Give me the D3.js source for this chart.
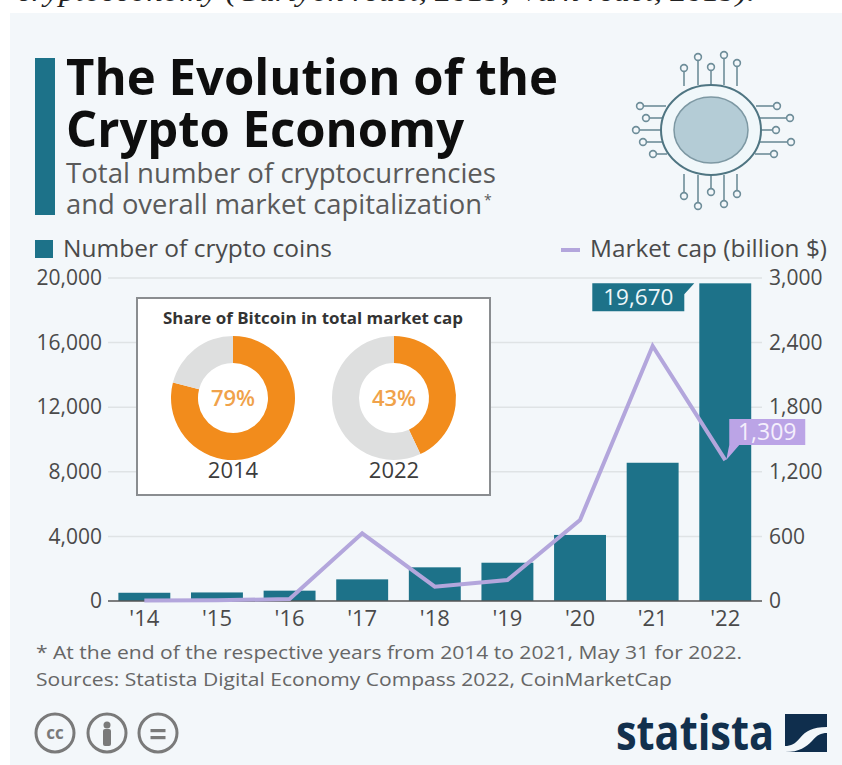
<!DOCTYPE html>
<html><head><meta charset="utf-8">
<script src="https://cdn.jsdelivr.net/npm/d3@7"></script>
<style>html,body{margin:0;padding:0;background:#fff}svg{display:block}text{font-family:"Open Sans",sans-serif}</style>
</head><body><svg id="c" width="842" height="765"></svg>
<script>
const years = ["'14","'15","'16","'17","'18","'19","'20","'21","'22"];
const coins = [510,530,640,1340,2085,2370,4090,8560,19670];
const marketCap = [5,7,18,628,133,195,752,2369,1309];
const leftTicks = [0,4000,8000,12000,16000,20000];
const rightTicks = [0,600,1200,1800,2400,3000];
const donutYears = ["2014","2022"];
const bitcoinShare = [79,43];

const TEAL="#1d7289", LILAC="#b3a6dc", ORANGE="#f28c1c", GREY="#dedfdf", TXT="#4a4a4a";
const svg=d3.select("#c");
const T=(x,y,s,size,o={})=>svg.append("text").attr("x",x).attr("y",y).text(s)
  .attr("font-size",size).attr("fill",o.fill||TXT).attr("font-weight",o.w||400)
  .attr("text-anchor",o.a||"start").attr("font-style",o.st||null);
const fit=(sel,len)=>sel.attr("textLength",len).attr("lengthAdjust","spacingAndGlyphs");
const twoLines=(x,size,fill,w,lines)=>{
  const t=svg.append("text").attr("font-size",size).attr("fill",fill).attr("font-weight",w);
  lines.forEach(l=>fit(t.append("tspan").attr("x",x).attr("y",l[1]).text(l[0]),l[2]));
};

// clipped line of the surrounding page and the panel
fit(T(17,1,"cryptoeconomy (Carlyon react, 2019; Vu/n react, 2019).",28,{fill:"#222",st:"italic"})
  .style("font-family","'Liberation Serif',serif"),738);
svg.append("rect").attr("x",10).attr("y",13).attr("width",832).attr("height",752).attr("fill","#f3f7fa");

// header
svg.append("rect").attr("x",35).attr("y",58).attr("width",20).attr("height",157).attr("fill",TEAL);
twoLines(66,50,"#0e0e0e",700,[["The Evolution of the",95,492],["Crypto Economy",147,398]]);
twoLines(66,26.5,"#5a5a5a",400,[["Total number of cryptocurrencies",183,430],["and overall market capitalization",214,416]]);
T(484,205,"*",14,{fill:"#5a5a5a"});

// icon
const ic=svg.append("g").attr("transform","translate(711,130)").attr("fill","none").attr("stroke","#6e8d99").attr("stroke-width",1.6);
const pins=[[-27,-44,-27,-62],[-13,-45,-13,-73],[0,-45,0,-63],[13,-45,13,-75],[26,-44,26,-67],
 [-27,44,-27,66],[-13,45,-13,76],[0,45,0,62],[13,45,13,74],[26,44,26,64],
 [-45,-24,-71,-24],[-48,-12,-65,-12],[-50,0,-75,0],[-48,12,-68,12],[-44,24,-58,24],
 [45,-24,66,-24],[48,-12,79,-12],[50,0,65,0],[48,12,80,12],[44,24,63,24]];
pins.forEach(p=>{ic.append("line").attr("x1",p[0]).attr("y1",p[1]).attr("x2",p[2]).attr("y2",p[3]);
 ic.append("circle").attr("cx",p[2]).attr("cy",p[3]).attr("r",3.4).attr("fill","#f3f7fa");});
ic.append("ellipse").attr("rx",50).attr("ry",45).attr("fill","#f0f7fa").attr("stroke","#4f7582").attr("stroke-width",2);
ic.append("ellipse").attr("rx",37).attr("ry",33).attr("fill","#b4ccd6").attr("stroke","#7d98a3").attr("stroke-width",1.5);

// legend
svg.append("rect").attr("x",35).attr("y",240).attr("width",18).attr("height",18).attr("fill",TEAL);
fit(T(63,257,"Number of crypto coins",23.5),269);
svg.append("line").attr("x1",561).attr("x2",580).attr("y1",250).attr("y2",250).attr("stroke",LILAC).attr("stroke-width",4);
fit(T(590,257,"Market cap (billion $)",23.5),237);

// scales
const x=d3.scaleBand().domain(years).range([107.6,762]).paddingInner(0.285).paddingOuter(0.5*0.285+0.006);
const yL=d3.scaleLinear().domain([0,20000]).range([601,278]);
const yR=d3.scaleLinear().domain([0,3000]).range([601,278]);

// grid
svg.append("g").selectAll("line").data(leftTicks.slice(1)).join("line")
  .attr("x1",108).attr("x2",762).attr("y1",d=>yL(d)).attr("y2",d=>yL(d)).attr("stroke","#dfe3e5").attr("stroke-width",1.5);

// axes
const style=(size)=>(g)=>{g.select(".domain").remove();g.selectAll("line").remove();
  g.selectAll("text").attr("font-size",size).attr("fill",TXT).style("font-family","'Open Sans',sans-serif");};
svg.append("g").attr("transform","translate(102,0)")
  .call(d3.axisLeft(yL).tickValues(leftTicks).tickFormat(d3.format(",")).tickSize(0).tickPadding(0)).call(style(21));
svg.append("g").attr("transform","translate(769,0)")
  .call(d3.axisRight(yR).tickValues(rightTicks).tickFormat(d3.format(",")).tickSize(0).tickPadding(0)).call(style(21));
svg.append("g").attr("transform","translate(0,606)")
  .call(d3.axisBottom(x).tickSize(0).tickPadding(4)).call(style(22));

// bars
svg.append("g").selectAll("rect").data(years).join("rect")
  .attr("x",d=>x(d)).attr("width",x.bandwidth())
  .attr("y",(d,i)=>yL(coins[i])).attr("height",(d,i)=>yL(0)-yL(coins[i])).attr("fill",TEAL);
svg.append("line").attr("x1",108).attr("x2",762).attr("y1",601).attr("y2",601).attr("stroke","#555").attr("stroke-width",1.5);

// line
const cx=d=>x(d)+x.bandwidth()/2;
svg.append("path").datum(years).attr("fill","none").attr("stroke",LILAC).attr("stroke-width",4)
  .attr("stroke-linejoin","miter")
  .attr("d",d3.line().x(cx).y((d,i)=>yR(marketCap[i])));

// value tags
const last=years.length-1, bx=x(years[last]), bt=yL(coins[last]), lx=cx(years[last]), ly=yR(marketCap[last]);
svg.append("path").attr("fill",TEAL)
  .attr("d",d3.line()([[bx-107,bt],[bx-5,bt],[bx-15,bt+11],[bx-15,bt+28],[bx-107,bt+28]]));
T(bx-61,bt+22,d3.format(",")(coins[last]),22.5,{fill:"#eef7fa",a:"middle"});
svg.append("path").attr("fill","#bba4e6")
  .attr("d",d3.line()([[lx+4,ly-41],[lx+80,ly-41],[lx+80,ly-15],[lx+14,ly-15],[lx+1,ly],[lx+4,ly-15]]));
T(lx+42,ly-20,d3.format(",")(marketCap[last]),23,{fill:"#f4effc",a:"middle"});

// inset
svg.append("rect").attr("x",137).attr("y",298).attr("width",353).attr("height",197)
  .attr("fill","#fff").attr("stroke","#8a8d90").attr("stroke-width",2);
fit(T(163,324,"Share of Bitcoin in total market cap",15.5,{fill:"#333",w:700}),300);
const arc=d3.arc().innerRadius(35).outerRadius(62);
const pie=d3.pie().sort(null);
[233,394].forEach((c,i)=>{
  const g=svg.append("g").attr("transform",`translate(${c},398)`);
  g.selectAll("path").data(pie([bitcoinShare[i],100-bitcoinShare[i]])).join("path")
    .attr("d",arc).attr("fill",(d,j)=>j?GREY:ORANGE);
  g.append("text").attr("text-anchor","middle").attr("y",8).attr("font-size",22).attr("font-weight",600)
    .attr("fill","#f0a24a").text(bitcoinShare[i]+"%");
  T(c,478,donutYears[i],22,{fill:"#3c3c3c",a:"middle"});
});

// footer
fit(T(36,659,"* At the end of the respective years from 2014 to 2021, May 31 for 2022.",18.5,{fill:"#666"}),706);
fit(T(36,686,"Sources: Statista Digital Economy Compass 2022, CoinMarketCap",18.5,{fill:"#666"}),636);

// licence icons
[55,107,158].forEach((c,i)=>{
  const g=svg.append("g").attr("transform",`translate(${c},733)`);
  g.append("circle").attr("r",19).attr("fill","none").attr("stroke","#7a7a7a").attr("stroke-width",3);
  if(i==0) g.append("text").attr("text-anchor","middle").attr("y",6).attr("font-size",17).attr("font-weight",700).attr("fill","#7a7a7a").text("cc");
  if(i==1){g.append("circle").attr("cy",-8).attr("r",3.5).attr("fill","#7a7a7a");
    g.append("rect").attr("x",-4).attr("y",-4).attr("width",8).attr("height",17).attr("rx",2).attr("fill","#7a7a7a");}
  if(i==2){[-4,3].forEach(v=>g.append("rect").attr("x",-7.5).attr("y",v).attr("width",15).attr("height",3.2).attr("fill","#7a7a7a"));}
});

// logo
fit(T(616,750,"statista",48,{fill:"#12304d",w:700}),158);
svg.append("path").attr("fill","#0f2e4d").attr("d","M785,714H827V727C812,727 806,731 800,738C795,744 791,746 785,746Z");
svg.append("path").attr("fill","#0f2e4d").attr("d","M827,733V752H785V752C800,752 806,747 812,741C817,735 821,733 827,733Z");
</script></body></html>
